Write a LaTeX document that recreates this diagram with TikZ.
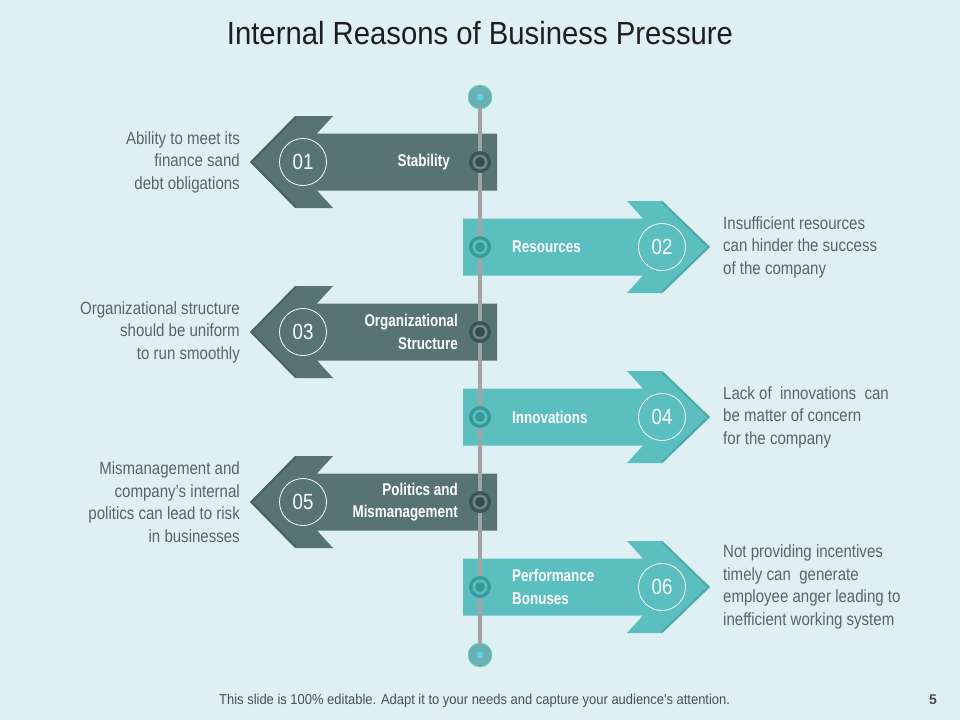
\documentclass[tikz,border=0pt]{standalone}
\usepackage{fontspec}
\setmainfont{Liberation Sans}
\newfontfamily\cond[FakeStretch=0.85]{Liberation Sans}
\newfontfamily\condlab[FakeStretch=0.79]{Liberation Sans}
\newfontfamily\condtitle[FakeStretch=0.915]{Liberation Sans}
\newfontfamily\footfont[FakeStretch=0.9]{Liberation Sans}
\definecolor{bgc}{HTML}{DFF0F4}
\definecolor{darkar}{HTML}{587373}
\definecolor{darkedge}{HTML}{4A6363}
\definecolor{tealar}{HTML}{5BBFBF}
\definecolor{tealedge}{HTML}{4EAAAA}
\definecolor{darkring}{HTML}{3D5454}
\definecolor{tealring}{HTML}{3A9A9B}
\definecolor{linegray}{HTML}{A3A3A3}
\definecolor{endfill}{HTML}{6AAFB2}
\definecolor{endcyan}{HTML}{5FDADA}
\definecolor{desc}{HTML}{5A6467}
\definecolor{titlec}{HTML}{1E1E1E}
\tikzset{
  desctext/.style={inner sep=0pt, text=desc, font=\cond\fontsize{17.7}{22.5}\selectfont},
  labtext/.style={inner sep=0pt, text=white, font=\condlab\bfseries\fontsize{17}{22.5}\selectfont},
  numcirc/.style={circle, draw=white, line width=0.8pt, minimum size=47pt, inner sep=0pt, text=white, font=\cond\fontsize{22}{22}\selectfont},
  endcirc/.style={circle, fill=endfill, draw=endcyan, line width=0.6pt, minimum size=24pt, inner sep=0pt},
}
\begin{document}
\begin{tikzpicture}[x=1pt,y=-1pt]
\fill[bgc] (0,0) rectangle (960,720);
\useasboundingbox (0,0) rectangle (960,720);

\node[inner sep=0pt, text=titlec, font=\condtitle\fontsize{32}{36}\selectfont] (title) at (480,33) {Internal Reasons of Business Pressure};

% left (dark) arrows
\foreach \cy/\lx/\nm/\lab/\ds [count=\i] in {
  162/450/01/{Stability}/{Ability to meet its\\finance sand\\debt obligations},
  332/458/03/{Organizational\\Structure}/{Organizational structure\\should be uniform\\to run smoothly},
  502/458/05/{Politics and\\Mismanagement}/{Mismanagement and\\company’s internal\\politics can lead to risk\\in businesses}}{
  \fill[darkar] (497,\cy-28.5) -- (317,\cy-28.5) -- (333,\cy-46) -- (295,\cy-46) -- (250,\cy) -- (295,\cy+46) -- (333,\cy+46) -- (317,\cy+28.5) -- (497,\cy+28.5) -- cycle;
  \draw[darkedge, line width=2pt] (296,\cy-45) -- (251.5,\cy) -- (296,\cy+45);
  \node[numcirc] (numL\i) at (303,\cy) {\nm};
  \node[labtext, anchor=east, align=right] (labL\i) at (\lx,\cy) {\lab};
  \node[desctext, anchor=east, align=right] (descL\i) at (240,\cy) {\ds};
}
% right (teal) arrows
\foreach \cy/\nm/\lab/\ds [count=\i] in {
  247/02/{Resources}/{Insufficient resources\\can hinder the success\\of the company},
  417/04/{Innovations}/{Lack of~ innovations~ can\\be matter of concern\\for the company},
  587/06/{Performance\\Bonuses}/{Not providing incentives\\timely can~ generate\\employee anger leading to\\inefficient working system}}{
  \fill[tealar] (463,\cy-28.5) -- (643,\cy-28.5) -- (627,\cy-46) -- (662,\cy-46) -- (710,\cy) -- (662,\cy+46) -- (627,\cy+46) -- (643,\cy+28.5) -- (463,\cy+28.5) -- cycle;
  \draw[tealedge, line width=2pt] (662,\cy-45) -- (708.5,\cy) -- (662,\cy+45);
  \node[numcirc] (numR\i) at (662,\cy) {\nm};
  \node[labtext, anchor=west, align=left] (labR\i) at (512,\cy) {\lab};
  \node[desctext, anchor=west, align=left] (descR\i) at (723,\cy) {\ds};
}

% timeline
\node[endcirc] (top) at (480,97) {};
\node[endcirc] (bot) at (480,655) {};
\draw[linegray, line width=4.5pt] (top.south) -- (bot.north);
\fill[endcyan] (top) circle (3.5);
\fill[endcyan] (bot) circle (3.5);

\foreach \cy in {162,332,502}{
  \fill[darkring] (480,\cy) circle (11);
  \fill[darkar!85!white] (480,\cy) circle (7.5);
  \fill[darkring!90!black] (480,\cy) circle (5);
}
\foreach \cy in {247,417,587}{
  \fill[tealring] (480,\cy) circle (11);
  \fill[tealar] (480,\cy) circle (7.5);
  \fill[tealring] (480,\cy) circle (5);
}

\node[inner sep=0pt, text=desc!80!black, font=\footfont\fontsize{14.4}{16}\selectfont, anchor=west] (foot) at (219,701) {This slide is 100\% editable. Adapt it to your needs and capture your audience's attention.};
\node[inner sep=0pt, text=titlec!80, font=\bfseries\fontsize{14}{16}\selectfont] (pg) at (933,700) {5};
\end{tikzpicture}
\end{document}
